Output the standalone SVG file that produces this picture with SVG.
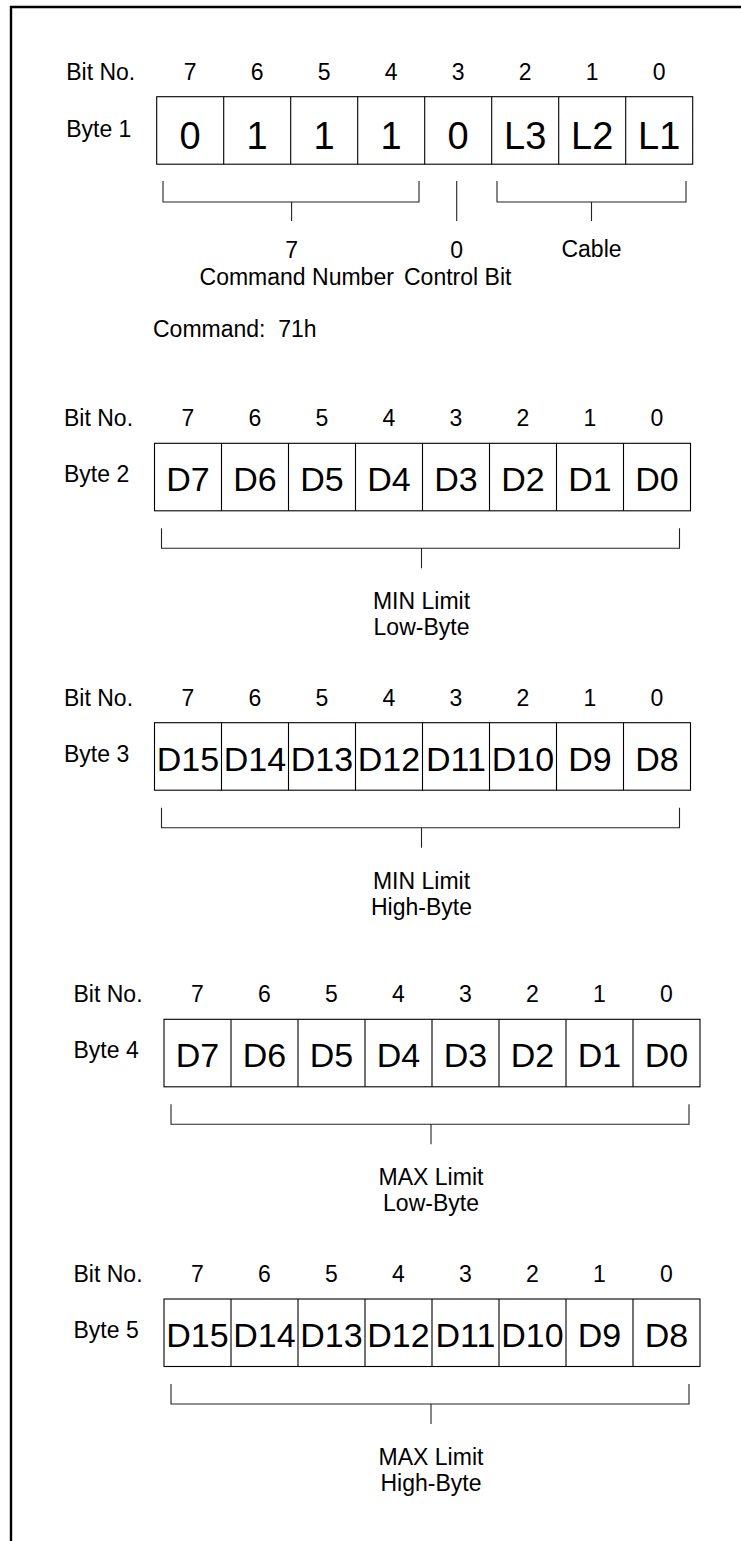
<svg xmlns="http://www.w3.org/2000/svg" width="741" height="1541" viewBox="0 0 741 1541">
<style>
  text { font-family: "Liberation Sans", Arial, sans-serif; fill: #000; }
  .lbl { font-size: 23px; }
  .num { font-size: 23px; text-anchor: middle; }
  .mid { font-size: 23px; text-anchor: middle; }
  .cell { font-size: 34px; text-anchor: middle; }
  .cellb { font-size: 38px; text-anchor: middle; }
  .box { fill: #fff; stroke: #000; stroke-width: 1.1; }
  .div { stroke: #000; stroke-width: 1.1; }
  .br { fill: none; stroke: #222; stroke-width: 1.1; }
  .frame { fill: none; stroke: #000; stroke-width: 2.4; }
</style>
<defs>
  <g id="bitrow">
    <text class="lbl" x="-90.5" y="-17">Bit No.</text>
    <text class="num" x="33.5" y="-17">7</text>
    <text class="num" x="100.5" y="-17">6</text>
    <text class="num" x="167.5" y="-17">5</text>
    <text class="num" x="234.5" y="-17">4</text>
    <text class="num" x="301.5" y="-17">3</text>
    <text class="num" x="368.5" y="-17">2</text>
    <text class="num" x="435.5" y="-17">1</text>
    <text class="num" x="502.5" y="-17">0</text>
  </g>
  <g id="cells">
    <rect class="box" x="0" y="0" width="536" height="67.5"/>
    <path class="div" d="M67,0V67.5M134,0V67.5M201,0V67.5M268,0V67.5M335,0V67.5M402,0V67.5M469,0V67.5"/>
  </g>
</defs>

<path class="frame" d="M11,1541V7H741"/>

<g id="byte1" transform="translate(156.7,96.7)">
  <use href="#bitrow"/>
  <use href="#cells"/>
  <text class="lbl" x="-90.5" y="40">Byte 1</text>
  <text class="cellb" x="33.5" y="52">0</text>
  <text class="cellb" x="100.5" y="52">1</text>
  <text class="cellb" x="167.5" y="52">1</text>
  <text class="cellb" x="234.5" y="52">1</text>
  <text class="cellb" x="301.5" y="52">0</text>
  <text class="cellb" x="368.5" y="52">L3</text>
  <text class="cellb" x="435.5" y="52">L2</text>
  <text class="cellb" x="502.5" y="52">L1</text>
  <text class="mid" x="134.9" y="161.3">7</text>
  <text class="mid" x="300" y="161.3">0</text>
  <text class="mid" x="434.8" y="160.3">Cable</text>
  <text class="mid" x="140" y="188.3">Command Number</text>
  <text class="mid" x="301" y="188.3">Control Bit</text>
</g>

<text id="command" class="lbl" x="153" y="337" style="white-space:pre">Command:  71h</text>

<g id="byte2" transform="translate(154.5,443.3)">
  <use href="#bitrow"/>
  <use href="#cells"/>
  <text class="lbl" x="-90.5" y="39">Byte 2</text>
  <text class="cell" x="33.5" y="48">D7</text>
  <text class="cell" x="100.5" y="48">D6</text>
  <text class="cell" x="167.5" y="48">D5</text>
  <text class="cell" x="234.5" y="48">D4</text>
  <text class="cell" x="301.5" y="48">D3</text>
  <text class="cell" x="368.5" y="48">D2</text>
  <text class="cell" x="435.5" y="48">D1</text>
  <text class="cell" x="502.5" y="48">D0</text>
  <text class="mid" x="267" y="166">MIN Limit</text>
  <text class="mid" x="267" y="192">Low-Byte</text>
</g>

<g id="byte3" transform="translate(154.5,722.7)">
  <use href="#bitrow"/>
  <use href="#cells"/>
  <text class="lbl" x="-90.5" y="39">Byte 3</text>
  <text class="cell" x="33.5" y="48">D15</text>
  <text class="cell" x="100.5" y="48">D14</text>
  <text class="cell" x="167.5" y="48">D13</text>
  <text class="cell" x="234.5" y="48">D12</text>
  <text class="cell" x="301.5" y="48">D11</text>
  <text class="cell" x="368.5" y="48">D10</text>
  <text class="cell" x="435.5" y="48">D9</text>
  <text class="cell" x="502.5" y="48">D8</text>
  <text class="mid" x="267" y="166">MIN Limit</text>
  <text class="mid" x="267" y="192">High-Byte</text>
</g>

<g id="byte4" transform="translate(164,1019.3)">
  <use href="#bitrow"/>
  <use href="#cells"/>
  <text class="lbl" x="-90.5" y="39">Byte 4</text>
  <text class="cell" x="33.5" y="48">D7</text>
  <text class="cell" x="100.5" y="48">D6</text>
  <text class="cell" x="167.5" y="48">D5</text>
  <text class="cell" x="234.5" y="48">D4</text>
  <text class="cell" x="301.5" y="48">D3</text>
  <text class="cell" x="368.5" y="48">D2</text>
  <text class="cell" x="435.5" y="48">D1</text>
  <text class="cell" x="502.5" y="48">D0</text>
  <text class="mid" x="267" y="166">MAX Limit</text>
  <text class="mid" x="267" y="192">Low-Byte</text>
</g>

<g id="byte5" transform="translate(164,1299)">
  <use href="#bitrow"/>
  <use href="#cells"/>
  <text class="lbl" x="-90.5" y="39">Byte 5</text>
  <text class="cell" x="33.5" y="48">D15</text>
  <text class="cell" x="100.5" y="48">D14</text>
  <text class="cell" x="167.5" y="48">D13</text>
  <text class="cell" x="234.5" y="48">D12</text>
  <text class="cell" x="301.5" y="48">D11</text>
  <text class="cell" x="368.5" y="48">D10</text>
  <text class="cell" x="435.5" y="48">D9</text>
  <text class="cell" x="502.5" y="48">D8</text>
  <text class="mid" x="267" y="166">MAX Limit</text>
  <text class="mid" x="267" y="192">High-Byte</text>
</g>

<g id="connectors">
  <g transform="translate(156.7,96.7)">
    <path class="br" d="M6.3,84.3V105.3H262.3V84.3M134.9,105.3V124.3"/>
    <path class="br" d="M300,84.3V124.3"/>
    <path class="br" d="M340.3,84.3V105.3H529.3V84.3M434.8,105.3V124.3"/>
  </g>
  <path class="br" transform="translate(154.5,443.3)" d="M7,85V105H525V85M267,105V125"/>
  <path class="br" transform="translate(154.5,722.7)" d="M7,85V105H525V85M267,105V125"/>
  <path class="br" transform="translate(164,1019.3)" d="M7,85V105H525V85M267,105V125"/>
  <path class="br" transform="translate(164,1299)" d="M7,85V105H525V85M267,105V125"/>
</g>
</svg>
